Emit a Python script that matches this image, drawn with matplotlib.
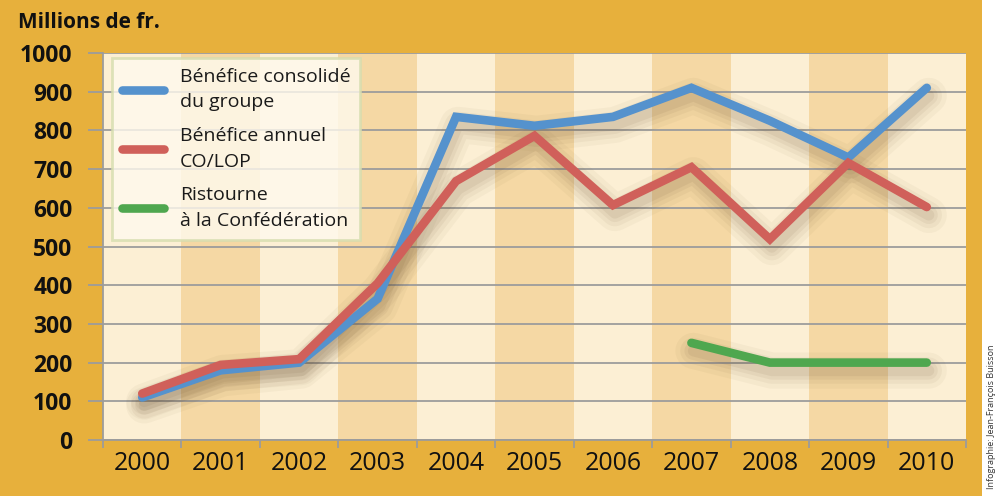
import matplotlib.pyplot as plt
import matplotlib.transforms as mtransforms
from matplotlib.patches import Rectangle
from matplotlib.lines import Line2D

years = list(range(2000, 2011))
benefice_groupe = [110, 180, 200, 365, 835, 812, 835, 910, 825, 730, 910]
benefice_colop = [120, 194, 209, 405, 669, 786, 607, 705, 519, 716, 602]
ristourne_years = [2007, 2008, 2009, 2010]
ristourne = [251, 200, 200, 200]

labels = ["Bénéfice consolidé\ndu groupe", "Bénéfice annuel\nCO/LOP", "Ristourne\nà la Confédération"]
colors = ["#5592CD", "#D0605A", "#4FA74F"]

ORANGE = "#E7B03C"
LIGHT = "#FCEFD4"
DARK = "#F5D8A4"
GRID = "#9C9C9C"

plt.rcParams['font.family'] = ['Open Sans', 'DejaVu Sans']

fig = plt.figure(figsize=(10, 4.96), dpi=100)
fig.patch.set_facecolor("white")
fig.patches.append(Rectangle((0, 0), 0.982, 1, transform=fig.transFigure,
                             facecolor=ORANGE, edgecolor="none", zorder=-10))

ax = fig.add_axes([0.103, 0.1129, 0.863, 0.7802])
ax.set_facecolor(LIGHT)

x = list(range(len(years)))
# alternating vertical bands, one per year
for i in x:
    if i % 2 == 1:
        ax.axvspan(i - 0.5, i + 0.5, facecolor=DARK, edgecolor="none", zorder=0)

ax.set_xlim(-0.5, len(years) - 0.5)
ax.set_ylim(0, 1000)
ax.set_yticks(range(0, 1001, 100))
ax.grid(axis="y", color=GRID, linewidth=1.3, zorder=1)
ax.set_axisbelow(True)

series = [
    (x, benefice_groupe, colors[0]),
    (x, benefice_colop, colors[1]),
    ([years.index(y) for y in ristourne_years], ristourne, colors[2]),
]

# soft drop shadow under each line
shift = ax.transData + mtransforms.ScaledTranslation(2 / 100, -8 / 100, fig.dpi_scale_trans)
for xs, ys, c in series:
    for w, a in [(26, 0.04), (19, 0.05), (13, 0.06), (8, 0.07)]:
        ax.plot(xs, ys, color="#5A4020", alpha=a, linewidth=w, transform=shift,
                solid_capstyle="round", solid_joinstyle="round", zorder=2)

for xs, ys, c in series:
    ax.plot(xs, ys, color=c, linewidth=6.2, solid_capstyle="round",
            solid_joinstyle="miter", zorder=3)

for s in ["top", "right"]:
    ax.spines[s].set_visible(False)
for s in ["left", "bottom"]:
    ax.spines[s].set_color(GRID)
    ax.spines[s].set_linewidth(1.3)

ax.set_xticks(x)
ax.set_xticklabels([str(y) for y in years], fontsize=18)
ax.set_xticks([i + 0.5 for i in [-1] + x], minor=True)
ax.tick_params(axis="x", which="major", length=0, pad=8, colors="#111111")
ax.tick_params(axis="x", which="minor", length=6, width=1.3, color=GRID)
ax.tick_params(axis="y", length=11, width=1.3, color=GRID, pad=11,
               labelsize=16.5, labelcolor="#111111")
for t in ax.get_yticklabels():
    t.set_fontweight("bold")

handles = [Line2D([0], [0], color=c, linewidth=6.2, solid_capstyle="round") for c in colors]
leg = ax.legend(handles, labels, loc="upper left", bbox_to_anchor=(0.0104, 0.987),
                borderaxespad=0, fontsize=14, frameon=True, fancybox=False,
                handlelength=2.2, handletextpad=0.8, labelspacing=0.8, borderpad=0.5)
leg.get_frame().set_facecolor("#FFFAEE")
leg.get_frame().set_alpha(0.8)
leg.get_frame().set_edgecolor("#D6DDAE")
leg.get_frame().set_linewidth(2)
leg.set_zorder(5)
for t in leg.get_texts():
    t.set_color("#1A1A1A")
    t.set_linespacing(1.55)

fig.text(0.018, 0.955, "Millions de fr.", fontsize=15, fontweight="bold",
         color="#111111", ha="left", va="center")
fig.text(0.992, 0.015, "Infographie: Jean-François Buisson", fontsize=6.5,
         color="#333333", rotation=90, ha="center", va="bottom")

fig.savefig("out.png", dpi=100)
